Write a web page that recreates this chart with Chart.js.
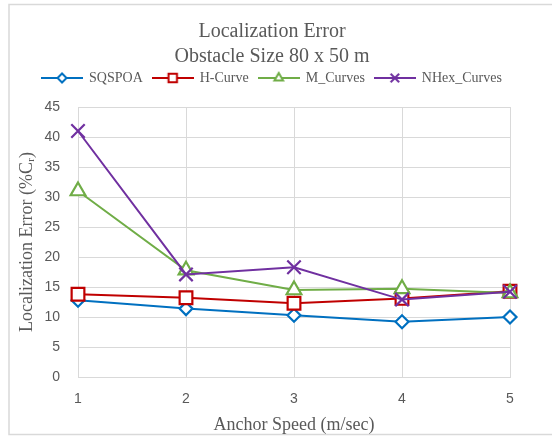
<!DOCTYPE html>
<html>
<head>
<meta charset="utf-8">
<script src="https://cdn.jsdelivr.net/npm/chart.js@4/dist/chart.umd.min.js"></script>
<style>
  html, body { margin: 0; padding: 0; background: #ffffff; }
  #wrap { position: relative; width: 552px; height: 437px; }
</style>
</head>
<body>
<div id="wrap"><canvas id="chart" width="552" height="437"></canvas></div>
<script>
// Anchor speed categories (m/sec)
const speeds = ['1', '2', '3', '4', '5'];

// Localization error (%Cr) per scheme
const sqspoa  = [12.8, 11.4, 10.3, 9.2, 10.0];
const hCurve  = [13.8, 13.2, 12.3, 13.1, 14.3];
const mCurves = [31.0, 17.8, 14.5, 14.7, 14.0];
const nhex    = [41.0, 17.1, 18.3, 12.9, 14.2];

const yTicks = { min: 0, max: 45, step: 5 };

const serif = "'Liberation Serif', 'Times New Roman', serif";
const sans = "'Liberation Sans', Arial, sans-serif";
const textColor = '#595959';
const gridColor = '#d9d9d9';

// Small line-plus-marker swatch used as the legend symbol
function swatch(color, style, radius) {
  const c = document.createElement('canvas');
  c.width = 42; c.height = 16;
  const ctx = c.getContext('2d');
  ctx.strokeStyle = color;
  ctx.lineWidth = 2;
  ctx.beginPath();
  ctx.moveTo(0, 8); ctx.lineTo(42, 8);
  ctx.stroke();
  ctx.fillStyle = '#ffffff';
  Chart.helpers.drawPoint(ctx, { pointStyle: style, radius: radius, rotation: 0, borderWidth: 2 }, 21, 8);
  return c;
}

const series = [
  { label: 'SQSPOA', data: sqspoa, color: '#0070c0', style: 'rectRot', r: 6.5, lr: 4.5 },
  { label: 'H-Curve', data: hCurve, color: '#c00000', style: 'rect', r: 9, lr: 6 },
  { label: 'M_Curves', data: mCurves, color: '#70ad47', style: 'triangle', r: 8.5, lr: 5 },
  { label: 'NHex_Curves', data: nhex, color: '#7030a0', style: 'crossRot', r: 9.5, lr: 6 }
];

const datasets = series.map((s, i) => ({
  label: s.label,
  data: s.data,
  xAxisID: 'x',
  yAxisID: 'y',
  borderColor: s.color,
  backgroundColor: '#ffffff',
  borderWidth: 2,
  pointStyle: s.style,
  pointRadius: s.r,
  pointHoverRadius: s.r,
  pointBorderWidth: 2.2,
  pointBackgroundColor: '#ffffff',
  pointBorderColor: s.color,
  tension: 0,
  order: series.length - i,
  legendSymbol: swatch(s.color, s.style, s.lr)
}));

// White page with the thin frame around the chart
const framePlugin = {
  id: 'frame',
  beforeDraw(chart) {
    const ctx = chart.ctx;
    ctx.save();
    ctx.fillStyle = '#ffffff';
    ctx.fillRect(0, 0, chart.width, chart.height);
    ctx.strokeStyle = gridColor;
    ctx.lineWidth = 1.5;
    ctx.beginPath();
    ctx.moveTo(560, 4.5);
    ctx.lineTo(9, 4.5);
    ctx.lineTo(9, 434.5);
    ctx.lineTo(560, 434.5);
    ctx.stroke();
    ctx.restore();
  }
};

// Empty spacer axes that reserve room above and to the right of the plot
const spacer = (size, horizontal) => ({
  display: true,
  grid: { display: false, drawTicks: false },
  border: { display: false },
  ticks: { display: false },
  afterFit(scale) {
    if (horizontal) { scale.height = size; } else { scale.width = size; }
  }
});

new Chart(document.getElementById('chart'), {
  type: 'line',
  data: { labels: speeds, datasets: datasets },
  plugins: [framePlugin],
  options: {
    responsive: false,
    animation: false,
    devicePixelRatio: 1,
    layout: { padding: { left: 10, right: 18, top: 6, bottom: 1 } },
    plugins: {
      tooltip: { enabled: false },
      title: {
        display: true,
        text: ['Localization Error', 'Obstacle Size 80 x 50 m'],
        color: textColor,
        font: { family: serif, size: 20, weight: 'normal', lineHeight: 1.25 },
        padding: { top: 13, bottom: -8 }
      },
      legend: {
        display: true,
        position: 'top',
        labels: {
          color: textColor,
          font: { family: serif, size: 14 },
          usePointStyle: true,
          pointStyleWidth: 40,
          boxHeight: 14,
          padding: 10,
          generateLabels(chart) {
            return chart.data.datasets.map((ds, i) => ({
              text: ds.label,
              fontColor: textColor,
              pointStyle: ds.legendSymbol,
              strokeStyle: ds.borderColor,
              fillStyle: '#ffffff',
              lineWidth: 0,
              hidden: false,
              datasetIndex: i
            }));
          }
        }
      }
    },
    scales: {
      x: {
        type: 'category',
        position: 'bottom',
        offset: false,
        grid: { color: gridColor, lineWidth: 1, drawTicks: false },
        border: { color: gridColor, width: 1 },
        ticks: { color: textColor, font: { family: sans, size: 14 }, padding: 14, maxRotation: 0 },
        title: {
          display: true,
          text: 'Anchor Speed (m/sec)',
          color: textColor,
          font: { family: serif, size: 18 },
          padding: { top: 2, bottom: 0 }
        },
        afterFit(scale) { scale.height = 59; }
      },
      xTop: Object.assign({ type: 'category', position: 'top' }, spacer(12, true)),
      y: {
        position: 'left',
        min: yTicks.min,
        max: yTicks.max,
        grid: { color: gridColor, lineWidth: 1, drawTicks: false },
        border: { display: false },
        ticks: { stepSize: yTicks.step, color: textColor, font: { family: sans, size: 14 }, padding: 18 },
        title: {
          display: true,
          text: 'Localization Error (%C\u1d63)',
          color: textColor,
          font: { family: serif, size: 18 },
          padding: { top: 6, bottom: 0 }
        },
        afterFit(scale) { scale.width = 68; }
      },
      yRight: Object.assign({ type: 'linear', position: 'right' }, spacer(24, false))
    }
  }
});
</script>
</body>
</html>
